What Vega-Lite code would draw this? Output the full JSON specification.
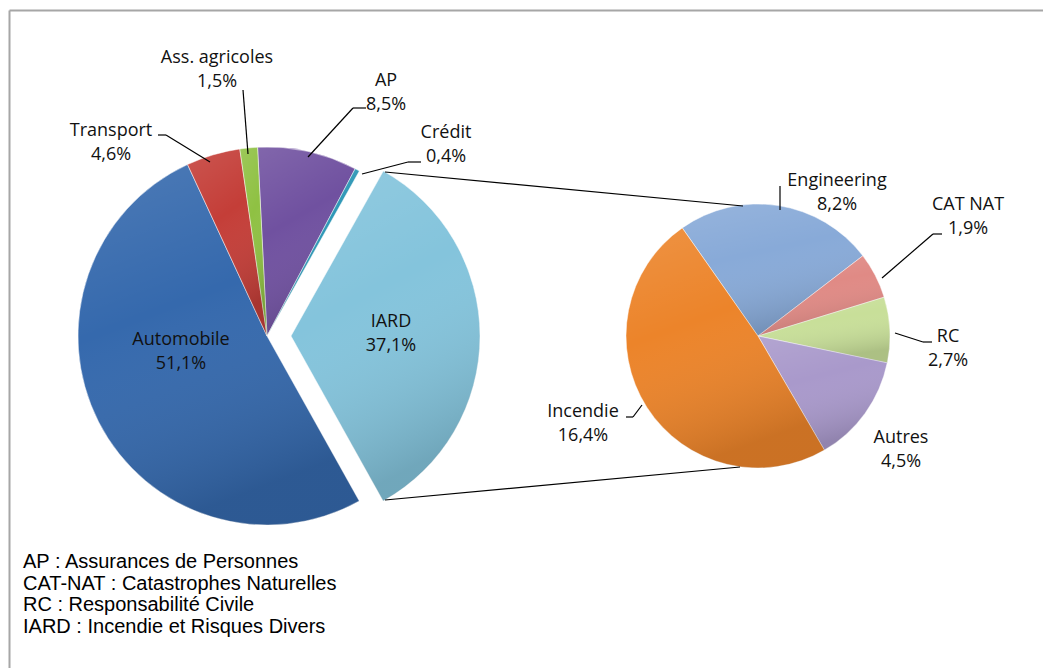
{
  "$schema": "https://vega.github.io/schema/vega-lite/v6.json",
  "autosize": "none",
  "padding": {"left": 9, "top": 10, "right": 0, "bottom": 0},
  "width": 1034,
  "height": 658,
  "background": "white",
  "config": {
    "view": {"stroke": null},
    "axis": {"labels": false, "ticks": false, "grid": false, "title": null, "domainColor": "#a6a6a6", "domainWidth": 2},
    "text": {"font": "Open Sans", "fontSize": 18, "color": "#111111", "align": "center", "baseline": "alphabetic", "lineBreak": "\n", "lineHeight": 24},
    "rule": {"color": "#000000", "strokeWidth": 1.2}
  },
  "title": {
    "text": ["AP : Assurances de Personnes", "CAT-NAT : Catastrophes Naturelles", "RC : Responsabilité Civile", "IARD : Incendie et Risques Divers"],
    "orient": "bottom",
    "anchor": "start",
    "frame": "group",
    "offset": -100,
    "dx": 14,
    "baseline": "alphabetic",
    "font": "Liberation Sans",
    "fontSize": 20,
    "fontWeight": "normal",
    "color": "#000000",
    "lineHeight": 21.5
  },
  "datasets": {
    "main": [
      {"cat": "AP", "v": 8.5, "pct": "8,5%"},
      {"cat": "Crédit", "v": 0.4, "pct": "0,4%"},
      {"cat": "IARD", "v": 33.7, "pct": "37,1%"},
      {"cat": "Automobile", "v": 51.1, "pct": "51,1%"},
      {"cat": "Transport", "v": 4.6, "pct": "4,6%"},
      {"cat": "Ass. agricoles", "v": 1.5, "pct": "1,5%"}
    ],
    "sub": [
      {"cat": "Engineering", "v": 8.2, "pct": "8,2%"},
      {"cat": "CAT NAT", "v": 1.9, "pct": "1,9%"},
      {"cat": "RC", "v": 2.7, "pct": "2,7%"},
      {"cat": "Autres", "v": 4.5, "pct": "4,5%"},
      {"cat": "Incendie", "v": 16.4, "pct": "16,4%"}
    ]
  },
  "resolve": {"scale": {"theta": "independent"}},
  "layer": [
    {
      "data": {"name": "main"},
      "transform": [{"window": [{"op": "row_number", "as": "idx"}]}],
      "mark": {"type": "arc", "radius": 189, "stroke": "#ffffff", "strokeWidth": 0.8, "strokeOpacity": 0.6},
      "encoding": {
        "theta": {"field": "v", "type": "quantitative", "scale": {"range": [-0.05, 6.2332]}},
        "order": {"field": "idx", "type": "quantitative"},
        "color": {"field": "cat", "type": "nominal", "legend": null,
          "scale": {"domain": ["AP", "Crédit", "IARD", "Automobile", "Transport", "Ass. agricoles", "Engineering", "CAT NAT", "RC", "Autres", "Incendie"],
                    "range": ["#7051a0", "#2e97b6", "#84c4dc", "#3569ad", "#c43e38", "#8fc143", "#88aad8", "#e08a85", "#c8df99", "#a999cb", "#ec842a"]}},
        "opacity": {"condition": {"test": "datum.cat === 'IARD'", "value": 0}, "value": 1},
        "x": {"datum": 267, "type": "quantitative", "scale": {"domain": [9, 1043], "nice": false, "zero": false}, "axis": {"orient": "top"}},
        "y": {"datum": 336, "type": "quantitative", "scale": {"domain": [668, 10], "nice": false, "zero": false}, "axis": {"orient": "left"}}
      }
    },
    {
      "data": {"name": "main"},
      "transform": [{"window": [{"op": "row_number", "as": "idx"}]}],
      "mark": {"type": "arc", "radius": 189,
        "fill": {"gradient": "linear", "x1": 0, "y1": 0, "x2": 0.3, "y2": 1, "stops": [{"offset": 0, "color": "rgba(255,255,255,0.12)"}, {"offset": 0.45, "color": "rgba(255,255,255,0)"}, {"offset": 1, "color": "rgba(0,0,0,0.15)"}]}},
      "encoding": {
        "theta": {"field": "v", "type": "quantitative", "scale": {"range": [-0.05, 6.2332]}},
        "order": {"field": "idx", "type": "quantitative"},
        "detail": {"field": "cat"},
        "opacity": {"condition": {"test": "datum.cat === 'IARD'", "value": 0}, "value": 1},
        "x": {"datum": 267, "type": "quantitative"},
        "y": {"datum": 336, "type": "quantitative"}
      }
    },
    {
      "data": {"name": "main"},
      "transform": [{"window": [{"op": "row_number", "as": "idx"}]}],
      "mark": {"type": "arc", "radius": 189, "stroke": "#ffffff", "strokeWidth": 0.8, "strokeOpacity": 0.6},
      "encoding": {
        "theta": {"field": "v", "type": "quantitative", "scale": {"range": [-0.05, 6.2332]}},
        "order": {"field": "idx", "type": "quantitative"},
        "color": {"field": "cat", "type": "nominal", "legend": null},
        "opacity": {"condition": {"test": "datum.cat === 'IARD'", "value": 1}, "value": 0},
        "x": {"datum": 291, "type": "quantitative"},
        "y": {"datum": 336, "type": "quantitative"}
      }
    },
    {
      "data": {"name": "main"},
      "transform": [{"window": [{"op": "row_number", "as": "idx"}]}],
      "mark": {"type": "arc", "radius": 189,
        "fill": {"gradient": "linear", "x1": 0, "y1": 0, "x2": 0.3, "y2": 1, "stops": [{"offset": 0, "color": "rgba(255,255,255,0.12)"}, {"offset": 0.45, "color": "rgba(255,255,255,0)"}, {"offset": 1, "color": "rgba(0,0,0,0.15)"}]}},
      "encoding": {
        "theta": {"field": "v", "type": "quantitative", "scale": {"range": [-0.05, 6.2332]}},
        "order": {"field": "idx", "type": "quantitative"},
        "detail": {"field": "cat"},
        "opacity": {"condition": {"test": "datum.cat === 'IARD'", "value": 1}, "value": 0},
        "x": {"datum": 291, "type": "quantitative"},
        "y": {"datum": 336, "type": "quantitative"}
      }
    },
    {
      "data": {"name": "sub"},
      "transform": [{"window": [{"op": "row_number", "as": "idx"}]}],
      "mark": {"type": "arc", "radius": 132, "stroke": "#ffffff", "strokeWidth": 0.8, "strokeOpacity": 0.6},
      "encoding": {
        "theta": {"field": "v", "type": "quantitative", "scale": {"range": [-0.611, 5.672]}},
        "order": {"field": "idx", "type": "quantitative"},
        "color": {"field": "cat", "type": "nominal", "legend": null},
        "x": {"datum": 758, "type": "quantitative"},
        "y": {"datum": 336, "type": "quantitative"}
      }
    },
    {
      "data": {"name": "sub"},
      "transform": [{"window": [{"op": "row_number", "as": "idx"}]}],
      "mark": {"type": "arc", "radius": 132,
        "fill": {"gradient": "linear", "x1": 0, "y1": 0, "x2": 0.3, "y2": 1, "stops": [{"offset": 0, "color": "rgba(255,255,255,0.12)"}, {"offset": 0.45, "color": "rgba(255,255,255,0)"}, {"offset": 1, "color": "rgba(0,0,0,0.14)"}]}},
      "encoding": {
        "theta": {"field": "v", "type": "quantitative", "scale": {"range": [-0.611, 5.672]}},
        "order": {"field": "idx", "type": "quantitative"},
        "detail": {"field": "cat"},
        "x": {"datum": 758, "type": "quantitative"},
        "y": {"datum": 336, "type": "quantitative"}
      }
    },
    {"data": {"values": [{}]}, "mark": "rule", "encoding": {"x": {"datum": 158}, "y": {"datum": 135}, "x2": {"datum": 166}, "y2": {"datum": 135}}},
    {"data": {"values": [{}]}, "mark": "rule", "encoding": {"x": {"datum": 166}, "y": {"datum": 135}, "x2": {"datum": 210}, "y2": {"datum": 162}}},
    {"data": {"values": [{}]}, "mark": "rule", "encoding": {"x": {"datum": 243}, "y": {"datum": 90}, "x2": {"datum": 248}, "y2": {"datum": 154}}},
    {"data": {"values": [{}]}, "mark": "rule", "encoding": {"x": {"datum": 366}, "y": {"datum": 108}, "x2": {"datum": 353}, "y2": {"datum": 108}}},
    {"data": {"values": [{}]}, "mark": "rule", "encoding": {"x": {"datum": 353}, "y": {"datum": 108}, "x2": {"datum": 308}, "y2": {"datum": 157}}},
    {"data": {"values": [{}]}, "mark": "rule", "encoding": {"x": {"datum": 421}, "y": {"datum": 162}, "x2": {"datum": 408}, "y2": {"datum": 162}}},
    {"data": {"values": [{}]}, "mark": "rule", "encoding": {"x": {"datum": 408}, "y": {"datum": 162}, "x2": {"datum": 362}, "y2": {"datum": 174}}},
    {"data": {"values": [{}]}, "mark": "rule", "encoding": {"x": {"datum": 780}, "y": {"datum": 186}, "x2": {"datum": 780}, "y2": {"datum": 210}}},
    {"data": {"values": [{}]}, "mark": "rule", "encoding": {"x": {"datum": 942}, "y": {"datum": 234}, "x2": {"datum": 933}, "y2": {"datum": 234}}},
    {"data": {"values": [{}]}, "mark": "rule", "encoding": {"x": {"datum": 933}, "y": {"datum": 234}, "x2": {"datum": 882}, "y2": {"datum": 278}}},
    {"data": {"values": [{}]}, "mark": "rule", "encoding": {"x": {"datum": 932}, "y": {"datum": 342}, "x2": {"datum": 923}, "y2": {"datum": 342}}},
    {"data": {"values": [{}]}, "mark": "rule", "encoding": {"x": {"datum": 923}, "y": {"datum": 342}, "x2": {"datum": 895}, "y2": {"datum": 333}}},
    {"data": {"values": [{}]}, "mark": "rule", "encoding": {"x": {"datum": 626}, "y": {"datum": 417}, "x2": {"datum": 633}, "y2": {"datum": 417}}},
    {"data": {"values": [{}]}, "mark": "rule", "encoding": {"x": {"datum": 633}, "y": {"datum": 417}, "x2": {"datum": 642}, "y2": {"datum": 405}}},
    {"data": {"values": [{}]}, "mark": "rule", "encoding": {"x": {"datum": 385}, "y": {"datum": 172}, "x2": {"datum": 743}, "y2": {"datum": 206}}},
    {"data": {"values": [{}]}, "mark": "rule", "encoding": {"x": {"datum": 385}, "y": {"datum": 500}, "x2": {"datum": 740}, "y2": {"datum": 467}}},
    {"data": {"name": "main"}, "transform": [{"filter": "datum.cat === 'Automobile'"}, {"calculate": "datum.cat + '\\n' + datum.pct", "as": "lab"}], "mark": "text", "encoding": {"x": {"datum": 181}, "y": {"datum": 345}, "text": {"field": "lab"}}},
    {"data": {"name": "main"}, "transform": [{"filter": "datum.cat === 'IARD'"}, {"calculate": "datum.cat + '\\n' + datum.pct", "as": "lab"}], "mark": "text", "encoding": {"x": {"datum": 391}, "y": {"datum": 327}, "text": {"field": "lab"}}},
    {"data": {"name": "main"}, "transform": [{"filter": "datum.cat === 'Ass. agricoles'"}, {"calculate": "datum.cat + '\\n' + datum.pct", "as": "lab"}], "mark": "text", "encoding": {"x": {"datum": 217}, "y": {"datum": 63}, "text": {"field": "lab"}}},
    {"data": {"name": "main"}, "transform": [{"filter": "datum.cat === 'AP'"}, {"calculate": "datum.cat + '\\n' + datum.pct", "as": "lab"}], "mark": "text", "encoding": {"x": {"datum": 386}, "y": {"datum": 86}, "text": {"field": "lab"}}},
    {"data": {"name": "main"}, "transform": [{"filter": "datum.cat === 'Transport'"}, {"calculate": "datum.cat + '\\n' + datum.pct", "as": "lab"}], "mark": "text", "encoding": {"x": {"datum": 111}, "y": {"datum": 136}, "text": {"field": "lab"}}},
    {"data": {"name": "main"}, "transform": [{"filter": "datum.cat === 'Crédit'"}, {"calculate": "datum.cat + '\\n' + datum.pct", "as": "lab"}], "mark": "text", "encoding": {"x": {"datum": 446}, "y": {"datum": 138}, "text": {"field": "lab"}}},
    {"data": {"name": "sub"}, "transform": [{"filter": "datum.cat === 'Engineering'"}, {"calculate": "datum.cat + '\\n' + datum.pct", "as": "lab"}], "mark": "text", "encoding": {"x": {"datum": 837}, "y": {"datum": 186}, "text": {"field": "lab"}}},
    {"data": {"name": "sub"}, "transform": [{"filter": "datum.cat === 'CAT NAT'"}, {"calculate": "datum.cat + '\\n' + datum.pct", "as": "lab"}], "mark": "text", "encoding": {"x": {"datum": 968}, "y": {"datum": 210}, "text": {"field": "lab"}}},
    {"data": {"name": "sub"}, "transform": [{"filter": "datum.cat === 'RC'"}, {"calculate": "datum.cat + '\\n' + datum.pct", "as": "lab"}], "mark": "text", "encoding": {"x": {"datum": 948}, "y": {"datum": 342}, "text": {"field": "lab"}}},
    {"data": {"name": "sub"}, "transform": [{"filter": "datum.cat === 'Autres'"}, {"calculate": "datum.cat + '\\n' + datum.pct", "as": "lab"}], "mark": "text", "encoding": {"x": {"datum": 901}, "y": {"datum": 443}, "text": {"field": "lab"}}},
    {"data": {"name": "sub"}, "transform": [{"filter": "datum.cat === 'Incendie'"}, {"calculate": "datum.cat + '\\n' + datum.pct", "as": "lab"}], "mark": "text", "encoding": {"x": {"datum": 583}, "y": {"datum": 417}, "text": {"field": "lab"}}}
  ]
}
